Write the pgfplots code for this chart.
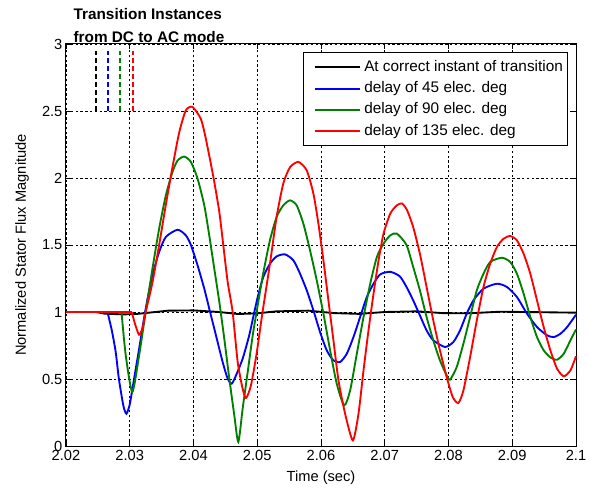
\documentclass[border=0pt]{standalone}
\usepackage{fontspec}
\setmainfont{Liberation Sans}
\usepackage{pgfplots}
\pgfplotsset{compat=1.18}
\usepackage{pgfplotstable}

\definecolor{mgreen}{rgb}{0,0.5,0}

\pgfplotstableread{
x y
2.0200 1.000
2.0247 1.000
2.0260 0.988
2.0290 0.982
2.0310 0.985
2.0340 1.000
2.0360 1.010
2.0400 1.012
2.0440 1.000
2.0470 0.985
2.0500 0.990
2.0530 1.005
2.0580 1.010
2.0620 0.992
2.0660 0.986
2.0700 1.000
2.0750 1.005
2.0790 0.992
2.0830 0.990
2.0880 1.002
2.0920 1.000
2.1000 0.995
}\blackdata

\pgfplotstableread{
x y
2.0200 1.000
2.0265 1.000
}\blueflat
\pgfplotstableread{
x y
2.0265 1.000
2.0272 0.860
2.0278 0.700
2.0283 0.500
2.0290 0.300
2.02948 0.241
2.0300 0.310
2.03042 0.428
2.03147 0.726
2.0325 1.025
2.03356 1.274
2.03461 1.448
2.03566 1.560
2.0375 1.614
2.0388 1.572
2.03959 1.500
2.04064 1.348
2.04169 1.174
2.04247 1.025
2.04352 0.826
2.04457 0.627
2.04536 0.502
2.04599 0.465
2.04667 0.527
2.04771 0.652
2.04876 0.830
2.04995 1.087
2.05094 1.260
2.05199 1.360
2.05304 1.415
2.05435 1.430
2.05566 1.386
2.05671 1.286
2.05776 1.162
2.05881 1.012
2.05985 0.851
2.0609 0.714
2.06195 0.639
2.0630 0.627
2.06405 0.689
2.06509 0.813
2.06614 0.963
2.06719 1.112
2.06824 1.211
2.06929 1.281
2.07086 1.300
2.07236 1.266
2.07341 1.187
2.07446 1.087
2.07551 0.975
2.07656 0.863
2.07761 0.789
2.07945 0.739
2.08076 0.776
2.08181 0.863
2.08286 0.988
2.08391 1.087
2.08549 1.174
2.08759 1.211
2.08916 1.187
2.09073 1.112
2.09231 0.988
2.09388 0.888
2.09546 0.826
2.09651 0.813
2.09756 0.838
2.09861 0.888
2.1000 0.980
}\bluedata

\pgfplotstableread{
x y
2.0200 1.000
2.0287 1.000
}\greenflat
\pgfplotstableread{
x y
2.0287 1.000
2.02937 0.677
2.0304 0.403
2.03147 0.677
2.0325 1.000
2.03356 1.323
2.03461 1.622
2.03566 1.870
2.0367 2.045
2.0375 2.130
2.03854 2.160
2.03959 2.120
2.04064 1.995
2.04169 1.796
2.04247 1.572
2.04326 1.323
2.04405 1.075
2.04483 0.800
2.04562 0.502
2.0464 0.229
2.04703 0.030
2.04771 0.279
2.0485 0.552
2.04929 0.826
2.0500 1.030
2.05094 1.290
2.05199 1.535
2.05304 1.710
2.05409 1.796
2.05514 1.833
2.05618 1.796
2.05723 1.660
2.05828 1.460
2.05933 1.236
2.06038 0.988
2.06143 0.714
2.06247 0.465
2.06363 0.303
2.06457 0.415
2.06562 0.689
2.06667 0.963
2.06772 1.211
2.06876 1.410
2.06981 1.510
2.07086 1.572
2.0719 1.585
2.07341 1.500
2.07446 1.336
2.07551 1.162
2.07656 0.963
2.07761 0.789
2.07866 0.639
2.07971 0.527
2.08024 0.495
2.08129 0.590
2.08234 0.764
2.08339 0.963
2.08444 1.162
2.08549 1.286
2.08654 1.373
2.08837 1.405
2.08969 1.373
2.09073 1.286
2.09178 1.137
2.09283 0.963
2.09388 0.813
2.09493 0.714
2.0960 0.660
2.09703 0.644
2.09808 0.689
2.09913 0.789
2.1000 0.870
}\greendata

\pgfplotstableread{
x y
2.0200 1.000
2.0303 1.000
}\redflat
\pgfplotstableread{
x y
2.0303 1.000
2.0309 0.900
2.03147 0.830
2.0320 0.880
2.0325 1.000
2.03356 1.220
2.03461 1.500
2.03566 1.800
2.0367 2.080
2.03776 2.340
2.0388 2.505
2.03985 2.530
2.04116 2.440
2.04195 2.290
2.04315 2.000
2.04405 1.746
2.04467 1.500
2.04536 1.224
2.04614 1.000
2.04693 0.627
2.04771 0.428
2.04824 0.358
2.0490 0.450
2.0499 0.690
2.0508 0.990
2.05199 1.360
2.05304 1.710
2.05409 1.960
2.05514 2.080
2.05645 2.120
2.05776 2.057
2.05881 1.883
2.05959 1.660
2.06038 1.386
2.06116 1.087
2.06195 0.789
2.06274 0.490
2.06378 0.241
2.06499 0.042
2.06588 0.241
2.06667 0.565
2.06745 0.863
2.06824 1.137
2.06903 1.386
2.06981 1.585
2.07086 1.734
2.0719 1.796
2.0727 1.810
2.0735 1.760
2.07446 1.634
2.07551 1.435
2.07656 1.187
2.07761 0.938
2.07866 0.714
2.07971 0.515
2.08066 0.366
2.08155 0.321
2.08234 0.415
2.08339 0.664
2.08444 0.938
2.08549 1.187
2.08654 1.361
2.08759 1.485
2.08864 1.547
2.08969 1.567
2.09073 1.535
2.09178 1.435
2.09283 1.286
2.09388 1.087
2.09493 0.888
2.09598 0.714
2.09703 0.577
2.09808 0.520
2.09913 0.565
2.1000 0.670
}\reddata

\begin{document}
\begin{tikzpicture}
\begin{axis}[
  name=ax,
  at={(0,0)}, anchor=south west,
  scale only axis,
  width=382.5pt, height=301.5pt,
  xmin=2.02, xmax=2.1, ymin=0, ymax=3,
  xtick={2.02,2.03,2.04,2.05,2.06,2.07,2.08,2.09,2.1},
  ytick={0,0.5,1,1.5,2,2.5,3},
  /pgf/number format/assume math mode=true,
  /pgf/number format/fixed,
  /pgf/number format/precision=2,
  scaled x ticks=false,
  tick label style={font=\fontsize{11}{13}\selectfont},
  xticklabel style={inner sep=1.5pt, yshift=-1.5pt},
  yticklabel style={inner sep=2.5pt},
  label style={font=\fontsize{11}{13}\selectfont},
  xlabel={Time (sec)},
  ylabel={Normalized Stator Flux Magnitude},
  xlabel style={at={(axis description cs:0.5,-0.08)}, anchor=center},
  ylabel style={at={(axis description cs:-0.086,0.5)}, anchor=center},
  axis line style={line width=0.75pt},
  tick style={black, line width=0.6pt},
  major tick length=4pt,
  tick align=inside,
  xmajorgrids, ymajorgrids,
  grid style={black, line width=0.5pt, dash pattern=on 1.8pt off 1.8pt},
  clip=false,
  legend style={
    at={(rel axis cs:0.9843,0.980)}, anchor=north east,
    draw=black, line width=0.75pt, fill=white,
    font=\fontsize{11.5}{13}\selectfont,
    inner xsep=2pt, inner ysep=4pt,
    nodes={inner sep=1.5pt, text height=8.5pt, text depth=2.5pt},
    row sep=2pt,
    column sep=1pt,
    cells={anchor=west},
  },
  legend image code/.code={\path[draw=none] (0pt,0pt) -- (6pt,0pt); \draw[#1, line width=1.5pt] (6pt,0pt) -- (40pt,0pt);},
  every axis plot/.append style={line width=1.4pt},
]
\addplot[black, forget plot, dash pattern=on 4pt off 2pt] coordinates {(2.02472,2.5) (2.02472,2.95)};
\addplot[blue, forget plot, dash pattern=on 4pt off 2pt] coordinates {(2.02655,2.5) (2.02655,2.95)};
\addplot[mgreen, forget plot, dash pattern=on 4pt off 2pt] coordinates {(2.02853,2.5) (2.02853,2.95)};
\addplot[red, forget plot, dash pattern=on 4pt off 2pt] coordinates {(2.03049,2.5) (2.03049,2.95)};

\addplot[black] table {\blackdata};
\addplot[blue, smooth, tension=0.4] table {\bluedata};
\addplot[blue, forget plot] table {\blueflat};
\addplot[mgreen, smooth, tension=0.4] table {\greendata};
\addplot[mgreen, forget plot] table {\greenflat};
\addplot[red, smooth, tension=0.4] table {\reddata};
\addplot[red, forget plot] table {\redflat};
\legend{At correct instant of transition, delay of 45 elec. deg, delay of 90 elec. deg, delay of 135 elec. deg}

\node[anchor=base west, font=\fontsize{11.5}{13}\selectfont\bfseries, inner sep=0pt] at ([xshift=5.5pt,yshift=18.4pt]rel axis cs:0,1) {Transition Instances};
\node[anchor=base west, font=\fontsize{11.5}{13}\selectfont\bfseries, inner sep=0pt] at ([xshift=5.5pt,yshift=0.8pt]rel axis cs:0,1) {from DC to AC mode};
\end{axis}
\pgfresetboundingbox
\path[use as bounding box] ([xshift=-49.5pt,yshift=-34.5pt]ax.south west) rectangle ([xshift=10.5pt,yshift=33pt]ax.north east);
\end{tikzpicture}
\end{document}
